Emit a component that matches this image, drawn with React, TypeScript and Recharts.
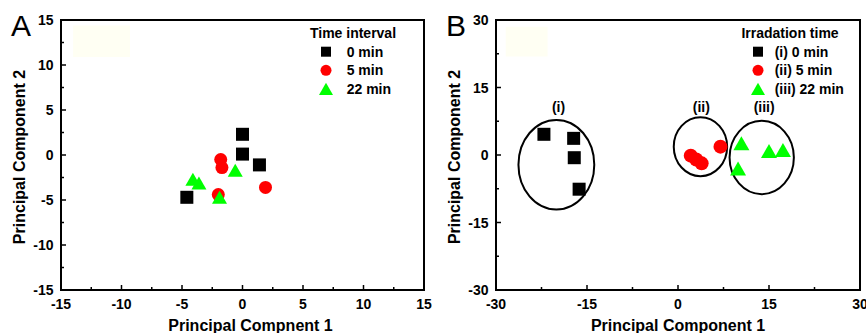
import React from 'react'
import { ScatterChart, Scatter, XAxis, YAxis, ReferenceArea, ReferenceDot, Legend } from 'recharts'

const FONT = '"Liberation Sans", Arial, Helvetica, sans-serif'

// ---- panel A: time interval ----
const aTicks = [-15, -12.5, -10, -7.5, -5, -2.5, 0, 2.5, 5, 7.5, 10, 12.5, 15]
const aMajor = [-15, -10, -5, 0, 5, 10, 15]
const aSeriesNames = ['0 min', '5 min', '22 min']
const a0min = [
  { x: 0, y: 2.3 },
  { x: 0, y: 0.1 },
  { x: 1.4, y: -1.1 },
  { x: -4.6, y: -4.7 },
]
const a5min = [
  { x: -1.8, y: -0.5 },
  { x: -1.7, y: -1.4 },
  { x: -2.0, y: -4.4 },
  { x: 1.9, y: -3.6 },
]
const a22min = [
  { x: -4.1, y: -2.7 },
  { x: -3.6, y: -3.1 },
  { x: -1.9, y: -4.7 },
  { x: -0.6, y: -1.7 },
]

// ---- panel B: irradiation time ----
const bTicks = [-30, -22.5, -15, -7.5, 0, 7.5, 15, 22.5, 30]
const bMajor = [-30, -15, 0, 15, 30]
const bSeriesNames = ['(i) 0 min', '(ii) 5 min', '(iii) 22 min']
const b0min = [
  { x: -22.1, y: 4.6 },
  { x: -17.2, y: 3.7 },
  { x: -17.1, y: -0.6 },
  { x: -16.3, y: -7.6 },
]
const b5min = [
  { x: 2.1, y: -0.15 },
  { x: 3.0, y: -1.0 },
  { x: 3.9, y: -1.85 },
  { x: 7.0, y: 1.85 },
]
const b22min = [
  { x: 10.45, y: 2.6 },
  { x: 9.9, y: -3.0 },
  { x: 15.0, y: 0.9 },
  { x: 17.3, y: 1.1 },
]
// cluster ellipses (data coords of bounding box) and their labels
const bClusters = [
  { label: '(i)', x1: -26.3, x2: -13.8, y1: -12.1, y2: 7.8, lx: -19.7 },
  { label: '(ii)', x1: -0.7, x2: 8.1, y1: -4.7, y2: 8.4, lx: 3.85 },
  { label: '(iii)', x1: 8.5, x2: 19.1, y1: -8.7, y2: 7.6, lx: 14.2 },
]
const bLabelY = 10.4

const BLACK = '#000000'
const RED = '#ff0000'
const GREEN = '#00ff00'

function marker(kind: string, cx: number, cy: number, fill: string, s: number) {
  if (kind === 'square') return <rect x={cx - s / 2} y={cy - s / 2} width={s} height={s} fill={fill} />
  if (kind === 'circle') return <circle cx={cx} cy={cy} r={s / 2} fill={fill} />
  const h = (s * Math.sqrt(3)) / 2
  return (
    <polygon
      points={`${cx},${cy - h / 2} ${cx - s / 2},${cy + h / 2} ${cx + s / 2},${cy + h / 2}`}
      fill={fill}
    />
  )
}

const shape = (kind: string, fill: string, s: number) => (p: any) => marker(kind, p.cx, p.cy, fill, s)

const makeTick = (axis: 'x' | 'y', majors: number[]) => (props: any) => {
  const { x, y, payload } = props
  const v = payload.value
  const major = majors.includes(v)
  const len = major ? 5 : 3
  const txt = { fontFamily: FONT, fontSize: 14, fontWeight: 'bold' as const, fill: '#000' }
  if (axis === 'x') {
    return (
      <g>
        <line x1={x} x2={x} y1={y} y2={y - len} stroke="#000" strokeWidth={1.5} />
        {major && (
          <text x={x} y={y + 19} textAnchor="middle" {...txt}>
            {v}
          </text>
        )}
      </g>
    )
  }
  return (
    <g>
      <line x1={x} x2={x + len} y1={y} y2={y} stroke="#000" strokeWidth={1.5} />
      {major && (
        <text x={x - 7.5} y={y + 5} textAnchor="end" {...txt}>
          {v}
        </text>
      )}
    </g>
  )
}

const xTitle = (value: string, dx: number) => (props: any) => {
  const vb = props.viewBox
  return (
    <text
      x={vb.x + vb.width / 2 + dx}
      y={vb.y + 41}
      textAnchor="middle"
      fontFamily={FONT}
      fontSize={16}
      fontWeight="bold"
      fill="#000"
    >
      {value}
    </text>
  )
}

const yTitle = (value: string, bx: number, cy: number) => () => (
  <text
    x={bx}
    y={cy}
    transform={`rotate(-90 ${bx} ${cy})`}
    textAnchor="middle"
    fontFamily={FONT}
    fontSize={16}
    fontWeight="bold"
    fill="#000"
  >
    {value}
  </text>
)

const legendContent =
  (title: string, order: string[], tx: number, mx: number, lx: number, sizes: Record<string, number>) =>
  (props: any) => {
    const payload = [...(props.payload ?? [])].sort(
      (a: any, b: any) => order.indexOf(a.value) - order.indexOf(b.value)
    )
    return (
      <svg width={140} height={80} style={{ overflow: 'visible', display: 'block' }}>
        <text x={tx} y={18.3} textAnchor="middle" fontFamily={FONT} fontSize={14} fontWeight="bold" fill="#000">
          {title}
        </text>
        {payload.map((e: any, i: number) => {
          const cy = 31.7 + 18.6 * i
          return (
            <g key={i}>
              {marker(e.type, mx, cy, e.color, sizes[e.type] ?? 10)}
              <text x={lx} y={cy + 5} fontFamily={FONT} fontSize={14} fontWeight="bold" fill="#000">
                {e.value}
              </text>
            </g>
          )
        })}
      </svg>
    )
  }

const legendSizes = { square: 10, circle: 11, triangle: 14 }

const ellipseShape = (p: any) => (
  <ellipse
    cx={p.x + p.width / 2}
    cy={p.y + p.height / 2}
    rx={p.width / 2}
    ry={p.height / 2}
    fill="none"
    stroke="#000"
    strokeWidth={2}
  />
)

const clusterLabel = (text: string) => (p: any) => (
  <text x={p.cx} y={p.cy + 4} textAnchor="middle" fontFamily={FONT} fontSize={14} fontWeight="bold" fill="#000">
    {text}
  </text>
)

const letterStyle: React.CSSProperties = {
  position: 'absolute',
  top: 11,
  fontFamily: FONT,
  fontSize: 30,
  lineHeight: '30px',
  color: '#000',
}

export default function App() {
  return (
    <div style={{ position: 'absolute', left: 0, top: 0, width: 866, height: 333, background: '#fff' }}>
      <div style={{ position: 'absolute', left: 0, top: 0 }}>
        <ScatterChart width={433} height={333} margin={{ top: 20, right: 9, bottom: 0, left: 0 }}>
          <XAxis
            type="number"
            dataKey="x"
            domain={[-15, 15]}
            ticks={aTicks}
            interval={0}
            axisLine={false}
            tickLine={false}
            tickSize={0}
            tickMargin={0}
            height={43}
            tick={makeTick('x', aMajor)}
            label={{ content: xTitle('Principal Compnent 1', 8) }}
          />
          <YAxis
            type="number"
            dataKey="y"
            domain={[-15, 15]}
            ticks={aTicks}
            interval={0}
            axisLine={false}
            tickLine={false}
            tickSize={0}
            tickMargin={0}
            width={61}
            tick={makeTick('y', aMajor)}
            label={{ content: yTitle('Principal Component 2', 25, 157) }}
          />
          <ReferenceArea x1={-14} x2={-9.3} y1={10.9} y2={14.4} fill="#fffff3" fillOpacity={1} stroke="none" />
          <ReferenceArea x1={-15} x2={15} y1={-15} y2={15} fill="none" stroke="#000" strokeWidth={2} />
          <Scatter name={aSeriesNames[0]} data={a0min} fill={BLACK} legendType="square" shape={shape('square', BLACK, 13)} isAnimationActive={false} />
          <Scatter name={aSeriesNames[1]} data={a5min} fill={RED} legendType="circle" shape={shape('circle', RED, 13)} isAnimationActive={false} />
          <Scatter name={aSeriesNames[2]} data={a22min} fill={GREEN} legendType="triangle" shape={shape('triangle', GREEN, 15)} isAnimationActive={false} />
          <Legend
            layout="vertical"
            align="center"
            verticalAlign="middle"
            wrapperStyle={{ left: 300, top: 20, width: 140, height: 80 }}
            content={legendContent('Time interval', aSeriesNames, 53, 26, 46.7, legendSizes)}
          />
        </ScatterChart>
        <div style={{ ...letterStyle, left: 11 }}>A</div>
      </div>
      <div style={{ position: 'absolute', left: 433, top: 0 }}>
        <ScatterChart width={433} height={333} margin={{ top: 20, right: 6, bottom: 0, left: 0 }}>
          <XAxis
            type="number"
            dataKey="x"
            domain={[-30, 30]}
            ticks={bTicks}
            interval={0}
            axisLine={false}
            tickLine={false}
            tickSize={0}
            tickMargin={0}
            height={43}
            tick={makeTick('x', bMajor)}
            label={{ content: xTitle('Principal Component 1', 0) }}
          />
          <YAxis
            type="number"
            dataKey="y"
            domain={[-30, 30]}
            ticks={bTicks}
            interval={0}
            axisLine={false}
            tickLine={false}
            tickSize={0}
            tickMargin={0}
            width={63}
            tick={makeTick('y', bMajor)}
            label={{ content: yTitle('Principal Component 2', 26.7, 157) }}
          />
          <ReferenceArea x1={-28.4} x2={-21.5} y1={21.9} y2={28.5} fill="#fffff3" fillOpacity={1} stroke="none" />
          <ReferenceArea x1={-30} x2={30} y1={-30} y2={30} fill="none" stroke="#000" strokeWidth={2} />
          <Scatter name={bSeriesNames[0]} data={b0min} fill={BLACK} legendType="square" shape={shape('square', BLACK, 13)} isAnimationActive={false} />
          <Scatter name={bSeriesNames[1]} data={b5min} fill={RED} legendType="circle" shape={shape('circle', RED, 14)} isAnimationActive={false} />
          <Scatter name={bSeriesNames[2]} data={b22min} fill={GREEN} legendType="triangle" shape={shape('triangle', GREEN, 16)} isAnimationActive={false} />
          {bClusters.map((c) => (
            <ReferenceArea key={c.label} x1={c.x1} x2={c.x2} y1={c.y1} y2={c.y2} shape={ellipseShape} />
          ))}
          {bClusters.map((c) => (
            <ReferenceDot key={'l' + c.label} x={c.lx} y={bLabelY} r={0} shape={clusterLabel(c.label)} />
          ))}
          <Legend
            layout="vertical"
            align="center"
            verticalAlign="middle"
            wrapperStyle={{ left: 300, top: 20, width: 140, height: 80 }}
            content={legendContent('Irradation time', bSeriesNames, 57, 25, 41.7, legendSizes)}
          />
        </ScatterChart>
        <div style={{ ...letterStyle, left: 13 }}>B</div>
      </div>
    </div>
  )
}
